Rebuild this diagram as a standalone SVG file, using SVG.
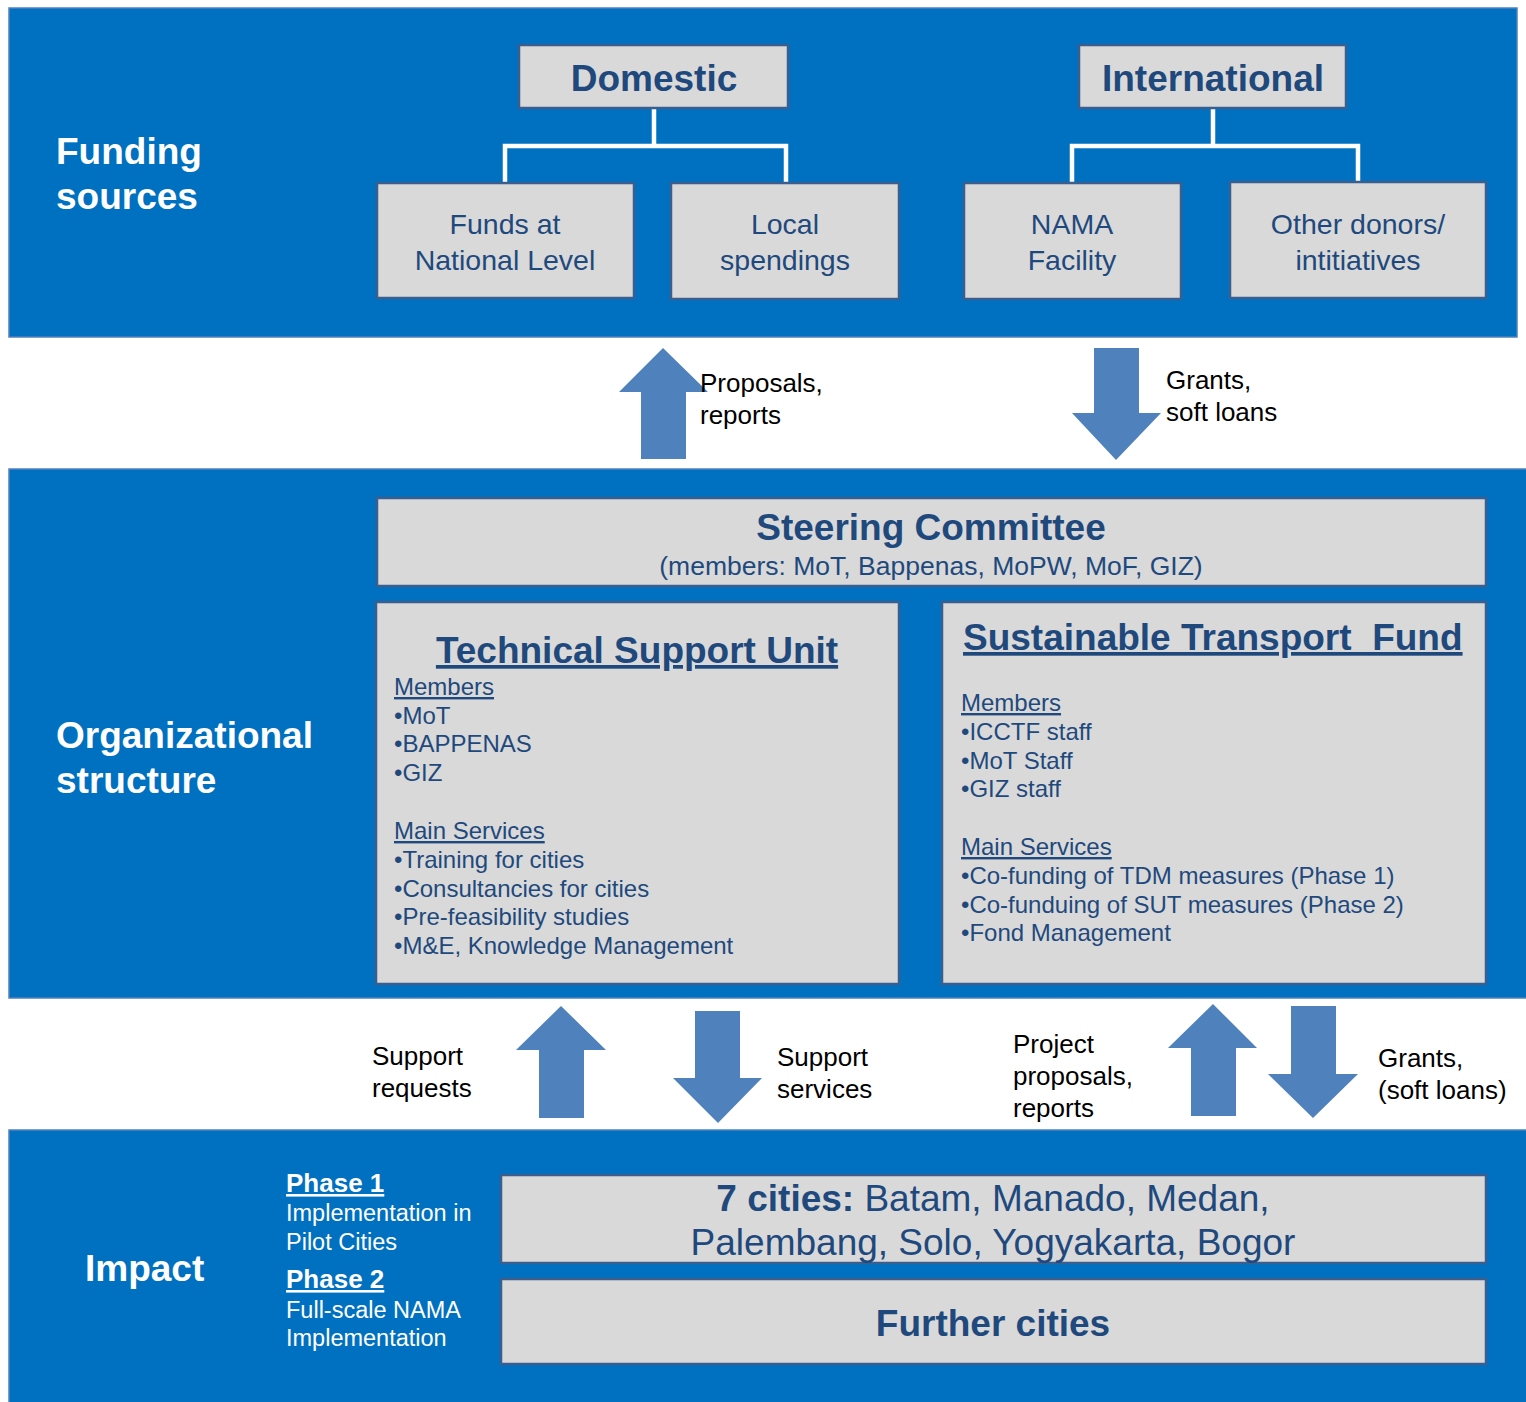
<svg xmlns="http://www.w3.org/2000/svg" width="1526" height="1402" viewBox="0 0 1526 1402">
<style>
.band{fill:#0070C0;stroke:#4F81BD;stroke-width:1.5}
.box{fill:#D9D9D9;stroke:#3A5F8E;stroke-width:2.5}
.t{font-family:"Liberation Sans",Arial,sans-serif;fill:#1F497D}
.w{font-family:"Liberation Sans",Arial,sans-serif;fill:#FFFFFF}
.k{font-family:"Liberation Sans",Arial,sans-serif;fill:#000000;font-size:26px}
.b{font-weight:bold}
.arrow{fill:#4F81BD}
.tree{fill:none;stroke:#FFFFFF;stroke-width:4.5}
.li{font-size:24px}
</style>
<rect x="0" y="0" width="1526" height="1402" fill="#FFFFFF"/>
<g id="band-funding">
<rect class="band" x="9" y="8" width="1508" height="329"/>
<text class="w b" font-size="37" x="56" y="164">Funding</text>
<text class="w b" font-size="37" x="56" y="209">sources</text>
</g>
<g id="band-org">
<rect class="band" x="9" y="469" width="1520" height="529"/>
<text class="w b" font-size="37" x="56" y="748">Organizational</text>
<text class="w b" font-size="37" x="56" y="793">structure</text>
</g>
<g id="band-impact">
<rect class="band" x="9" y="1130" width="1520" height="275"/>
<text class="w b" font-size="37" x="85" y="1281">Impact</text>
<text class="w b" font-size="26" x="286" y="1192" text-decoration="underline">Phase 1</text>
<text class="w" font-size="23.5" x="286" y="1221">Implementation in</text>
<text class="w" font-size="23.5" x="286" y="1250">Pilot Cities</text>
<text class="w b" font-size="26" x="286" y="1288" text-decoration="underline">Phase 2</text>
<text class="w" font-size="23.5" x="286" y="1318">Full-scale NAMA</text>
<text class="w" font-size="23.5" x="286" y="1346">Implementation</text>
</g>
<g id="connectors">
<path class="tree" d="M654 108V146M505 183V146H786V183"/>
<path class="tree" d="M1213 108V146M1072 183V146H1358V183"/>
<polygon class="arrow" points="663,348 708,392 686,392 686,459 641,459 641,392 619,392"/>
<polygon class="arrow" points="1094,348 1139,348 1139,413 1161,413 1116,460 1072,413 1094,413"/>
<polygon class="arrow" points="561,1006 606,1050 584,1050 584,1118 539,1118 539,1050 516,1050"/>
<polygon class="arrow" points="695,1011 740,1011 740,1078 762,1078 718,1123 673,1078 695,1078"/>
<polygon class="arrow" points="1213,1004 1257,1048 1236,1048 1236,1116 1191,1116 1191,1048 1168,1048"/>
<polygon class="arrow" points="1291,1006 1336,1006 1336,1074 1358,1074 1313,1118 1268,1074 1291,1074"/>
<text class="k" x="700" y="392">Proposals,</text>
<text class="k" x="700" y="424">reports</text>
<text class="k" x="1166" y="389">Grants,</text>
<text class="k" x="1166" y="421">soft loans</text>
<text class="k" x="372" y="1065">Support</text>
<text class="k" x="372" y="1097">requests</text>
<text class="k" x="777" y="1066">Support</text>
<text class="k" x="777" y="1098">services</text>
<text class="k" x="1013" y="1053">Project</text>
<text class="k" x="1013" y="1085">proposals,</text>
<text class="k" x="1013" y="1117">reports</text>
<text class="k" x="1378" y="1067">Grants,</text>
<text class="k" x="1378" y="1099">(soft loans)</text>
</g>
<g id="domestic">
<rect class="box" x="519" y="45" width="269" height="63"/>
<text class="t b" font-size="37" x="654" y="91" text-anchor="middle">Domestic</text>
</g>
<g id="international">
<rect class="box" x="1079" y="45" width="267" height="63"/>
<text class="t b" font-size="37" x="1213" y="91" text-anchor="middle">International</text>
</g>
<g id="funds-national">
<rect class="box" x="377" y="183" width="257" height="115"/>
<text class="t" font-size="28.5" x="505" y="234" text-anchor="middle">Funds at</text>
<text class="t" font-size="28.5" x="505" y="270" text-anchor="middle">National Level</text>
</g>
<g id="local-spendings">
<rect class="box" x="671" y="183" width="228" height="116"/>
<text class="t" font-size="28.5" x="785" y="234" text-anchor="middle">Local</text>
<text class="t" font-size="28.5" x="785" y="270" text-anchor="middle">spendings</text>
</g>
<g id="nama-facility">
<rect class="box" x="964" y="183" width="217" height="116"/>
<text class="t" font-size="28.5" x="1072" y="234" text-anchor="middle">NAMA</text>
<text class="t" font-size="28.5" x="1072" y="270" text-anchor="middle">Facility</text>
</g>
<g id="other-donors">
<rect class="box" x="1230" y="182" width="256" height="116"/>
<text class="t" font-size="28.5" x="1358" y="234" text-anchor="middle">Other donors/</text>
<text class="t" font-size="28.5" x="1358" y="270" text-anchor="middle">intitiatives</text>
</g>
<g id="steering-committee">
<rect class="box" x="377" y="498" width="1109" height="88"/>
<text class="t b" font-size="37" x="931" y="540" text-anchor="middle">Steering Committee</text>
<text class="t" font-size="26.5" x="931" y="575" text-anchor="middle">(members: MoT, Bappenas, MoPW, MoF, GIZ)</text>
</g>
<g id="technical-support-unit">
<rect class="box" x="376" y="602" width="523" height="382"/>
<text class="t b" font-size="37" x="637" y="663" text-anchor="middle" text-decoration="underline">Technical Support Unit</text>
<text class="t li" x="394" y="695" text-decoration="underline">Members</text>
<text class="t li" x="394" y="724">•MoT</text>
<text class="t li" x="394" y="752">•BAPPENAS</text>
<text class="t li" x="394" y="781">•GIZ</text>
<text class="t li" x="394" y="839" text-decoration="underline">Main Services</text>
<text class="t li" x="394" y="868">•Training for cities</text>
<text class="t li" x="394" y="897">•Consultancies for cities</text>
<text class="t li" x="394" y="925">•Pre-feasibility studies</text>
<text class="t li" x="394" y="954">•M&amp;E, Knowledge Management</text>
</g>
<g id="sustainable-transport-fund">
<rect class="box" x="942" y="602" width="544" height="382"/>
<text class="t b" font-size="37" x="963" y="650" text-decoration="underline" xml:space="preserve">Sustainable Transport  Fund</text>
<text class="t li" x="961" y="711" text-decoration="underline">Members</text>
<text class="t li" x="961" y="740">•ICCTF staff</text>
<text class="t li" x="961" y="769">•MoT Staff</text>
<text class="t li" x="961" y="797">•GIZ staff</text>
<text class="t li" x="961" y="855" text-decoration="underline">Main Services</text>
<text class="t li" x="961" y="884">•Co-funding of TDM measures (Phase 1)</text>
<text class="t li" x="961" y="913">•Co-funduing of SUT measures (Phase 2)</text>
<text class="t li" x="961" y="941">•Fond Management</text>
</g>
<g id="seven-cities">
<rect class="box" x="501" y="1175" width="985" height="88"/>
<text class="t" font-size="37" x="993" y="1211" text-anchor="middle"><tspan font-weight="bold">7 cities:</tspan> Batam, Manado, Medan,</text>
<text class="t" font-size="37" x="993" y="1255" text-anchor="middle">Palembang, Solo, Yogyakarta, Bogor</text>
</g>
<g id="further-cities">
<rect class="box" x="501" y="1279" width="985" height="85"/>
<text class="t b" font-size="37" x="993" y="1336" text-anchor="middle">Further cities</text>
</g>
</svg>
